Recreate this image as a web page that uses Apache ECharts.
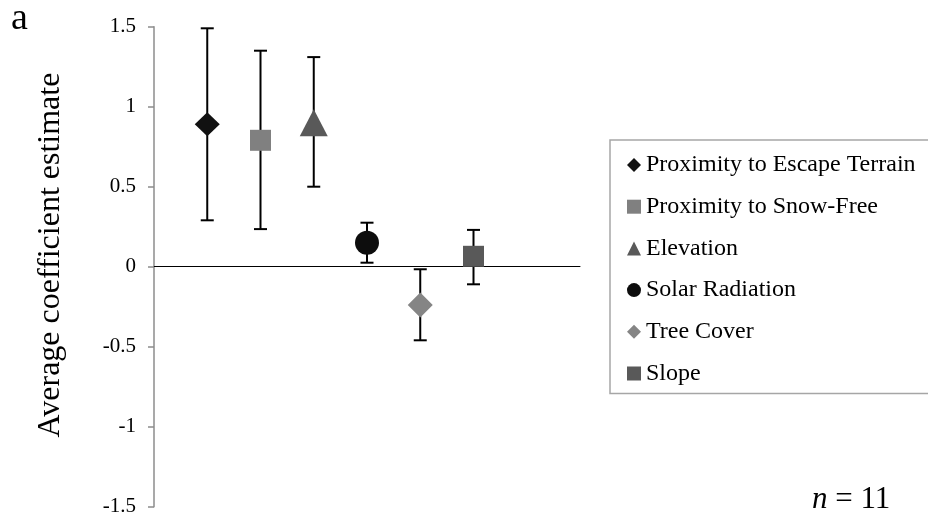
<!DOCTYPE html>
<html>
<head>
<meta charset="utf-8">
<script src="https://cdn.jsdelivr.net/npm/echarts@6/dist/echarts.min.js"></script>
<style>
  html, body { margin: 0; padding: 0; background: #fff; }
  #chart { width: 928px; height: 521px; }
</style>
</head>
<body>
<div id="chart"></div>
<script>
// data
const names = [
  "Proximity to Escape Terrain",
  "Proximity to Snow-Free",
  "Elevation",
  "Solar Radiation",
  "Tree Cover",
  "Slope",
];
const xPos = [1, 2, 3, 4, 5, 6];
const estimates = [0.89, 0.79, 0.9, 0.15, -0.24, 0.065];
const upper = [1.49, 1.35, 1.31, 0.275, -0.016, 0.23];
const lower = [0.29, 0.235, 0.5, 0.025, -0.46, -0.11];

// marker look per variable
const symbols = ["diamond", "rect", "triangle", "circle", "diamond", "rect"];
const colors = ["#111111", "#808080", "#595959", "#0d0d0d", "#858585", "#595959"];
const sizes = [[25, 24], [21, 21], [28, 27], [24, 24], [25, 25], [21, 21]];

const FONT = "'Liberation Serif', 'Times New Roman', serif";

const chart = echarts.init(document.getElementById("chart"));

const markerSeries = names.map((name, i) => ({
  name: name,
  type: "scatter",
  symbol: symbols[i],
  symbolSize: sizes[i],
  z: 3,
  itemStyle: { color: colors[i], opacity: 1 },
  data: [[xPos[i], estimates[i]]],
}));

const errorSeries = {
  type: "custom",
  name: "err",
  z: 2,
  silent: true,
  data: xPos.map((x, i) => [x, lower[i], upper[i]]),
  renderItem: function (params, api) {
    const lo = api.coord([api.value(0), api.value(1)]);
    const hi = api.coord([api.value(0), api.value(2)]);
    const cap = 6.5;
    const style = { stroke: "#000", lineWidth: 2 };
    return {
      type: "group",
      children: [
        { type: "line", shape: { x1: lo[0], y1: lo[1], x2: hi[0], y2: hi[1] }, style: style },
        { type: "line", shape: { x1: hi[0] - cap, y1: hi[1], x2: hi[0] + cap, y2: hi[1] }, style: style },
        { type: "line", shape: { x1: lo[0] - cap, y1: lo[1], x2: lo[0] + cap, y2: lo[1] }, style: style },
      ],
    };
  },
};

const option = {
  animation: false,
  backgroundColor: "#fff",
  grid: { left: 154, top: 26.7, width: 426, height: 480 },
  xAxis: {
    type: "value",
    min: 0,
    max: 8,
    axisLine: { show: true, onZero: true, lineStyle: { color: "#000", width: 1 } },
    axisTick: { show: false },
    axisLabel: { show: false },
    splitLine: { show: false },
  },
  yAxis: {
    type: "value",
    min: -1.5,
    max: 1.5,
    interval: 0.5,
    axisLine: { show: true, lineStyle: { color: "#8c8c8c", width: 1.5 } },
    axisTick: { show: true, length: 6, lineStyle: { color: "#8c8c8c", width: 1.5 } },
    axisLabel: { margin: 18, color: "#000", fontFamily: FONT, fontSize: 21 },
    splitLine: { show: false },
  },
  legend: {
    orient: "vertical",
    left: 610,
    top: 140,
    selectedMode: false,
    borderColor: "#a6a6a6",
    borderWidth: 1.5,
    padding: [13, 60, 8, 17],
    itemGap: 17.7,
    itemWidth: 14,
    itemHeight: 14,
    textStyle: { fontFamily: FONT, fontSize: 24, color: "#000", lineHeight: 24 },
    data: names,
  },
  graphic: [
    {
      type: "text",
      x: 11,
      y: 19,
      style: { text: "a", font: "38px " + FONT, fill: "#000", verticalAlign: "middle" },
    },
    {
      type: "text",
      x: 51,
      y: 255,
      rotation: Math.PI / 2,
      style: {
        text: "Average coefficient estimate",
        font: "32px " + FONT,
        fill: "#000",
        align: "center",
        verticalAlign: "middle",
      },
    },
    {
      type: "text",
      x: 812,
      y: 500,
      style: {
        text: "{i|n} = 11",
        font: "31px " + FONT,
        fill: "#000",
        verticalAlign: "middle",
        rich: { i: { fontStyle: "italic", fontFamily: FONT, fontSize: 31 } },
      },
    },
  ],
  series: [errorSeries].concat(markerSeries),
};

chart.setOption(option);
</script>
</body>
</html>
